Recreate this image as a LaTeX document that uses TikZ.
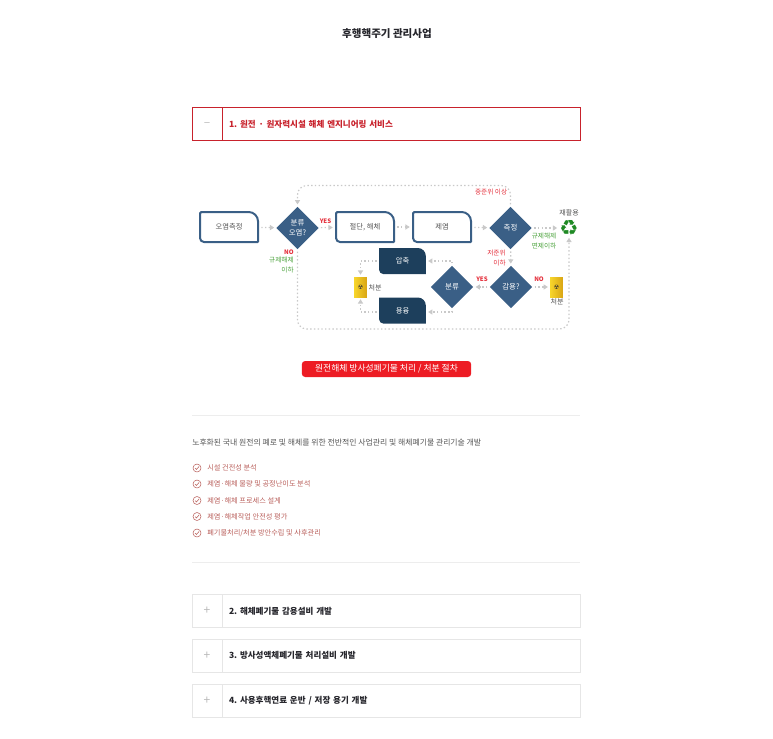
\documentclass[tikz,border=0pt]{standalone}
\usepackage{fontspec}
\setmainfont{Noto Sans CJK KR}
\newfontfamily\symfont{DejaVu Sans}
\usetikzlibrary{arrows.meta,positioning,shapes.geometric}
\definecolor{boxblue}{HTML}{3A5F86}
\definecolor{deepblue}{HTML}{1D3F5C}
\definecolor{flowgray}{HTML}{C9C9C9}
\definecolor{labelred}{HTML}{E4303C}
\definecolor{labelgreen}{HTML}{4BA23C}
\definecolor{accred}{HTML}{C8222C}
\definecolor{accgray}{HTML}{E6E6E6}
\definecolor{listred}{HTML}{B9605C}
\definecolor{bodygray}{HTML}{555555}
\definecolor{pillred}{HTML}{ED1C24}
\definecolor{headdark}{HTML}{26262C}
\definecolor{recyclegreen}{HTML}{1F8A24}
\definecolor{drumlight}{HTML}{F7D52B}
\definecolor{drumdark}{HTML}{D9A514}
\tikzset{
  sz/.style={font=\fontsize{#1}{7}\selectfont},
  plainlabel/.style={inner sep=0pt,text=bodygray,sz=5.3},
  redlabel/.style={inner sep=0pt,text=labelred,sz=5,align=right},
  greenlabel/.style={inner sep=0pt,text=labelgreen,sz=5,align=right},
  tagred/.style={inner sep=0pt,text=labelred,font=\fontsize{4.6}{6}\selectfont\bfseries},
  decision/.style={diamond,aspect=1,fill=boxblue,text=white,inner sep=0pt,minimum width=32pt,minimum height=32pt,align=center,sz=5.6},
  process/.style={minimum width=45pt,minimum height=24pt,inner sep=0pt,text=bodygray,sz=5.5,
    path picture={\draw[boxblue,line width=1.5pt]
      ([xshift=.75pt]path picture bounding box.west) [rounded corners=1pt] --
      ([xshift=.75pt,yshift=-.75pt]path picture bounding box.north west) [rounded corners=7pt] --
      ([xshift=-.75pt,yshift=-.75pt]path picture bounding box.north east) [rounded corners=.5pt] --
      ([xshift=-.75pt,yshift=.75pt]path picture bounding box.south east) [rounded corners=3pt] --
      ([xshift=.75pt,yshift=.75pt]path picture bounding box.south west) -- cycle;}},
  storage/.style={minimum width=35pt,minimum height=19.5pt,inner sep=0pt,text=white,sz=5.5,
    path picture={\fill[deepblue]
      (path picture bounding box.west) [sharp corners] --
      (path picture bounding box.north west) [rounded corners=6pt] --
      (path picture bounding box.north east) [sharp corners] --
      (path picture bounding box.south east) [rounded corners=3pt] --
      (path picture bounding box.south west) -- cycle;}},
  drum/.style={minimum width=9.5pt,minimum height=15pt,inner sep=0pt,left color=drumlight,right color=drumdark,text=black!80,font=\symfont\fontsize{4.5}{5}\selectfont},
  flow/.style={flowgray,line width=.9pt,dash pattern={on 1.1pt off 1.7pt},-{Triangle[length=3.2pt,width=3.8pt]},shorten >=1.5pt,shorten <=1.5pt},
  acccell/.style={draw=#1,line width=.75pt,minimum width=22.5pt,minimum height=25pt,inner sep=0pt,outer sep=0pt,text=gray!55,font=\fontsize{9}{9}\selectfont},
  accmain/.style={draw=#1,line width=.75pt,minimum width=268.5pt,minimum height=25pt,inner xsep=5pt,inner ysep=0pt,outer sep=0pt,text width=258pt,align=left,font=\fontsize{6.4}{8}\selectfont\bfseries},
  rule/.style={accgray!70,line width=.6pt},
  tick/.style={circle,draw=listred,line width=.4pt,minimum size=6pt,inner sep=0pt,outer sep=0pt,
    path picture={\draw[listred,line width=.4pt] ([xshift=-1.5pt,yshift=-.1pt]path picture bounding box.center) -- ([xshift=-.4pt,yshift=-1.1pt]path picture bounding box.center) -- ([xshift=1.6pt,yshift=1.2pt]path picture bounding box.center);}},
  listitem/.style={anchor=west,inner sep=0pt,text=listred,sz=5.4},
}
\begin{document}
\begin{tikzpicture}[x=0.75pt,y=0.75pt,yscale=-1,xscale=1]
\path[use as bounding box] (0,0) rectangle (773,738);

% Title
\draw (387,34) node (title) [inner sep=0pt,text=headdark,font=\fontsize{7.9}{10}\selectfont\bfseries] {후행핵주기 관리사업};

% Open header
\draw (192,107.5) node (toggleOne) [anchor=north west,acccell=accred] {–};
\node (headOne) [anchor=north west,accmain=accred,text=accred] at (toggleOne.north east) {1.\,\,원전 · 원자력시설 해체 엔지니어링 서비스};

% Flow nodes
\draw (229,227) node (survey) [process] {오염측정};
\draw (297.5,228) node (sortTop) [decision] {분류\\[.5pt]오염?};
\draw (365,227) node (cutting) [process] {절단, 해체};
\draw (442,227) node (decon) [process] {제염};
\draw (510.5,228) node (measure) [decision] {측정};
\draw (511,287) node (reduce) [decision] {감용?};
\draw (452,287) node (sortLow) [decision] {분류};
\draw (402.5,261) node (press) [storage] {압축};
\draw (402.5,310.5) node (melt) [storage] {용융};
\draw (360.5,287) node (drumLeft) [drum] {☢};
\draw (556.5,287) node (drumRight) [drum] {☢};
\draw (569,228) node (recycle) [inner sep=0pt,text=recyclegreen,font=\symfont\fontsize{16}{16}\selectfont] {♻};

% Helper corners
\coordinate (topLeft) at (297.5,185.5);
\coordinate (topRight) at (510.5,185.5);
\coordinate (lowLeft) at (297.5,329);
\coordinate (lowRight) at (569,329);
\coordinate (pressTurn) at (360.5,261);
\coordinate (meltTurn) at (360.5,312);
\coordinate (sortUp) at (452,261);
\coordinate (sortDown) at (452,312);

% Connectors
\draw [flow] (survey) -- (sortTop);
\draw [flow] (sortTop) -- (cutting);
\draw [flow] (cutting) -- (decon);
\draw [flow] (decon) -- (measure);
\draw [flow] (measure) -- (recycle);
\draw [flow] (measure) -- (reduce);
\draw [flow] (reduce) -- (sortLow);
\draw [flow] (reduce) -- (drumRight);
\draw [flow,rounded corners=7pt] (measure.north) -- (topRight) -- (topLeft) -- (sortTop.north);
\draw [flow,rounded corners=7pt] (sortTop.south) -- (lowLeft) -- (lowRight) -- (recycle.south);
\draw [flow] (sortLow.north) -- (sortUp) -- (press.east |- sortUp);
\draw [flow] (sortLow.south) -- (sortDown) -- (melt.east |- sortDown);
\draw [flow] (press.west) -- (pressTurn) -- (drumLeft.north);
\draw [flow] (melt.west |- meltTurn) -- (meltTurn) -- (drumLeft.south);

% Flow labels
\draw (325.5,221) node (yesTop) [tagred] {YES};
\draw (294,252.5) node (noTop) [anchor=east,tagred] {NO};
\draw (294,265) node (exemptLeft) [anchor=east,greenlabel] {규제해제\\이하};
\draw (375,288) node (disposeLeft) [plainlabel] {처분};
\draw (507.5,192) node (midLevel) [anchor=east,redlabel] {중준위 이상};
\draw (569,213) node (recycleText) [plainlabel] {재활용};
\draw (531.5,241) node (exemptRight) [anchor=west,greenlabel,align=left] {규제해제\\면제이하};
\draw (506,258) node (lowLevel) [anchor=east,redlabel] {저준위\\이하};
\draw (482,279) node (yesLow) [tagred] {YES};
\draw (539,279) node (noLow) [tagred] {NO};
\draw (557,302) node (disposeRight) [plainlabel] {처분};

% Caption pill
\draw (386.5,369) node (caption) [fill=pillred,text=white,rounded corners=2.5pt,minimum width=127pt,minimum height=12pt,inner sep=0pt,sz=6.6] {원전해체 방사성폐기물 처리 / 처분 절차};

% Body text
\coordinate (ruleAl) at (192,415.5);
\coordinate (ruleAr) at (580,415.5);
\draw [rule] (ruleAl) -- (ruleAr);
\draw (192,443) node (intro) [anchor=west,inner sep=0pt,text=bodygray,sz=5.9] {노후화된 국내 원전의 폐로 및 해체를 위한 전반적인 사업관리 및 해체폐기물 관리기술 개발};
\draw (197,468) node (tickA) [tick] {};
\draw (207,468) node (itemA) [listitem] {시설 건전성 분석};
\draw (197,484) node (tickB) [tick] {};
\draw (207,484) node (itemB) [listitem] {제염·해체 물량 및 공정난이도 분석};
\draw (197,500.5) node (tickC) [tick] {};
\draw (207,500.5) node (itemC) [listitem] {제염·해체 프로세스 설계};
\draw (197,516.5) node (tickD) [tick] {};
\draw (207,516.5) node (itemD) [listitem] {제염·해체작업 안전성 평가};
\draw (197,533) node (tickE) [tick] {};
\draw (207,533) node (itemE) [listitem] {폐기물처리/처분 방안수립 및 사후관리};
\coordinate (ruleBl) at (192,562.5);
\coordinate (ruleBr) at (580,562.5);
\draw [rule] (ruleBl) -- (ruleBr);

% Closed headers
\draw (192,594.5) node (toggleTwo) [anchor=north west,acccell=accgray] {+};
\node (headTwo) [anchor=north west,accmain=accgray,text=headdark] at (toggleTwo.north east) {2.\,\,해체폐기물 감용설비 개발};
\draw (192,639) node (toggleThree) [anchor=north west,acccell=accgray] {+};
\node (headThree) [anchor=north west,accmain=accgray,text=headdark] at (toggleThree.north east) {3.\,\,방사성액체폐기물 처리설비 개발};
\draw (192,684) node (toggleFour) [anchor=north west,acccell=accgray] {+};
\node (headFour) [anchor=north west,accmain=accgray,text=headdark] at (toggleFour.north east) {4.\,\,사용후핵연료 운반 / 저장 용기 개발};

\end{tikzpicture}
\end{document}
